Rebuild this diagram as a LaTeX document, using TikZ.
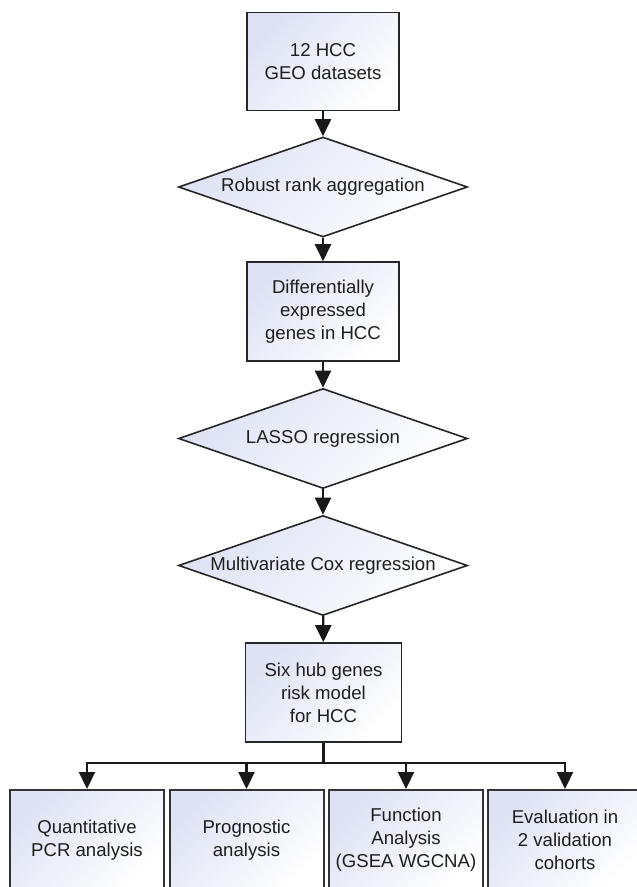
\documentclass[tikz,border=0pt]{standalone}
\usepackage{fontspec}
\setmainfont{Liberation Sans}
\usetikzlibrary{shapes.geometric,arrows.meta}
\definecolor{shadeblue}{RGB}{222,226,244}
\definecolor{txt}{RGB}{30,30,30}
\begin{document}
\begin{tikzpicture}[x=1pt,y=-1pt,
  fillshade/.style={top color=shadeblue, bottom color=white, shading angle=45},
  labelfont/.style={font=\fontsize{18.6}{23}\selectfont, text=txt, align=center},
  procbox/.style={draw=black!85, line width=1.6pt, fillshade, minimum width=152pt, minimum height=98pt, inner sep=0pt, labelfont},
  decision/.style={diamond, aspect=2.9, draw=black!85, line width=1.6pt, fillshade, minimum width=289pt, minimum height=100pt, inner sep=0pt, labelfont},
  botbox/.style={draw=black!80, line width=2pt, fillshade, minimum width=154pt, minimum height=100pt, inner sep=0pt, labelfont},
  arr/.style={line width=2.2pt, draw=black!90, -{Triangle[length=17pt,width=16pt]}},
  bus/.style={line width=2.2pt, draw=black!90}
]
\useasboundingbox (0,0) rectangle (637,887);
\fill[white] (0,0) rectangle (637,887);
\clip (0,0) rectangle (637,887);

\node[procbox] (geo) at (323,61.5) {12 HCC\\GEO datasets};
\node[decision] (rra) at (323,187) {Robust rank aggregation};
\node[procbox, minimum height=99pt] (deg) at (323,311.5) {Differentially\\expressed\\genes in HCC};
\node[decision] (lasso) at (323,438.5) {LASSO regression};
\node[decision] (cox) at (323,565.5) {Multivariate Cox regression};
\node[procbox, minimum width=156pt, minimum height=99pt] (model) at (323.5,692.5) {Six hub genes\\risk model\\for HCC};

\node[botbox] (qpcr) at (87,840) {Quantitative\\PCR analysis};
\node[botbox] (prog) at (246.5,840) {Prognostic\\analysis};
\node[botbox] (func) at (406,840) {Function\\Analysis\\(GSEA WGCNA)};
\node[botbox] (eval) at (565,840) {Evaluation in\\2 validation\\cohorts};

\draw[arr] (geo) -- (rra);
\draw[arr] (rra) -- (deg);
\draw[arr] (deg) -- (lasso);
\draw[arr] (lasso) -- (cox);
\draw[arr] (cox) -- (model);

\coordinate (split) at (323.5,763);
\draw[bus] (model.south) -- (split);
\draw[bus, line cap=rect] (qpcr.north |- split) -- (eval.north |- split);
\draw[arr] (qpcr.north |- split) -- (qpcr.north);
\draw[arr] (prog.north |- split) -- (prog.north);
\draw[arr] (func.north |- split) -- (func.north);
\draw[arr] (eval.north |- split) -- (eval.north);
\end{tikzpicture}
\end{document}
